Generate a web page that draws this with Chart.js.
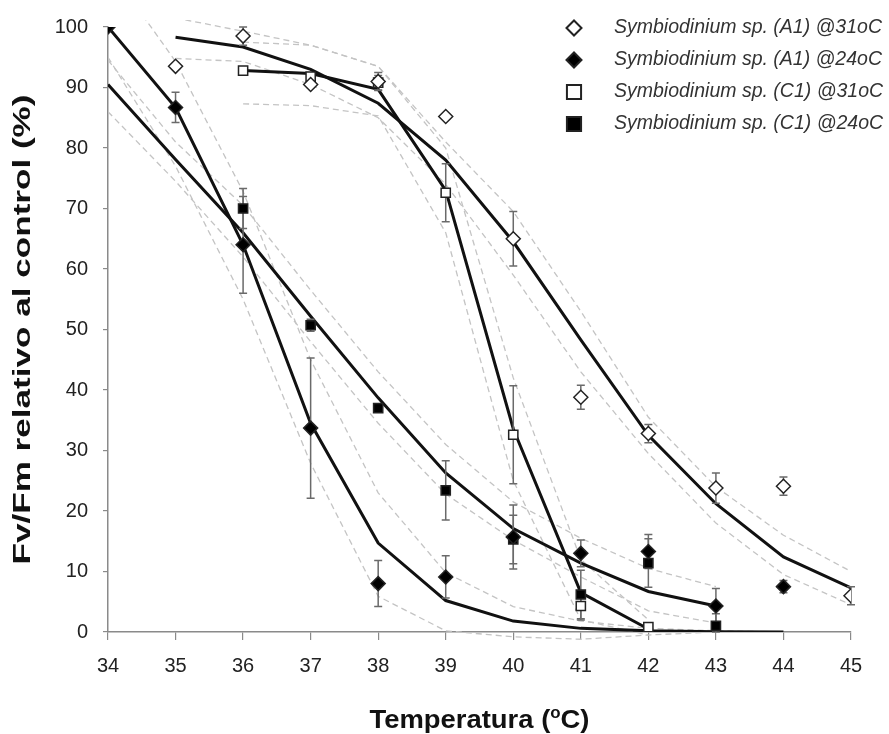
<!DOCTYPE html>
<html>
<head>
<meta charset="utf-8">
<script src="https://cdn.jsdelivr.net/npm/chart.js@4.4.0/dist/chart.umd.min.js"></script>
<style>
  html, body { margin: 0; padding: 0; background: #fff; }
</style>
</head>
<body>
<canvas id="grafico" width="889" height="734"></canvas>
<script>
// temperaturas de cada serie
const tempA31 = [35, 36, 37, 38, 39, 40, 41, 42, 43, 44, 45];
const tempA24 = [34, 35, 36, 37, 38, 39, 40, 41, 42, 43, 44];
const tempC31 = [36, 37, 38, 39, 40, 41, 42];
const tempC24 = [36, 37, 38, 39, 40, 41, 42, 43];
const tempC24ajuste = [34, 35, 36, 37, 38, 39, 40, 41, 42, 43];

// datos medidos (Fv/Fm relativo al control, %) y error
const a31 = [93.5, 98.5, 90.5, 91, 85.2, 65, 38.8, 32.8, 23.8, 24.1, 6];
const a31Err = [0, 1.5, 0.5, 1.5, 0, 4.5, 2, 1.5, 2.5, 1.5, 1.5];
const a24 = [100, 86.7, 64, 33.7, 8, 9.1, 15.7, 13, 13.3, 4.3, 7.5];
const a24Err = [0, 2.5, 8, 11.6, 3.8, 3.5, 5.3, 2.2, 2.8, 2.9, 1];
const c31 = [92.8, 91.8, 90.8, 72.6, 32.6, 4.3, 0.8];
const c31Err = [0, 0.3, 1.2, 4.8, 8.1, 2.3, 0];
const c24 = [70, 50.7, 37, 23.4, 15.3, 6.2, 11.4, 1];
const c24Err = [3.3, 1, 0.5, 4.9, 4, 4, 4, 2];

// curvas ajustadas
const a31Ajuste = [98.3, 96.7, 93, 87.4, 78, 64.5, 48.3, 32.5, 21.2, 12.4, 7.3];
const a24Ajuste = [100, 86.7, 64, 34.5, 14.7, 5.2, 1.8, 0.6, 0.2, 0.05, 0];
const c31Ajuste = [92.8, 92.3, 89.7, 73, 33.6, 6.5, 0.5];
const c24Ajuste = [90.5, 78.1, 66, 52.2, 38.7, 26.3, 17.1, 11.4, 6.7, 4.3];

// intervalos de confianza (lineas discontinuas)
const a31Sup = [101.5, 99.3, 97, 93.5, 81, 69.5, 53, 35.5, 24, 16, 10];
const a31Inf = [94.8, 94.3, 90.5, 85, 74, 59, 43, 29.5, 18, 9.5, 4.5];
const a24Sup = [110, 94.3, 72.8, 45, 23, 9.8, 4.2, 1.8, 0.6, 0.2, 0];
const a24Inf = [95, 77, 55, 27.9, 5.9, 0.2, -0.8, -1.2, -0.5, 0, 0];
const c31Sup = [97.5, 97, 93.5, 80, 42, 12, 2];
const c31Inf = [87.3, 87, 85.3, 66, 25, 2, -0.5];
const c24Sup = [94.5, 81, 70.5, 56.5, 43, 31, 21.5, 15.5, 10.5, 7.5];
const c24Inf = [86, 74.5, 62, 48, 34.5, 22.8, 15.2, 9.1, 3.5, 1.5];

const ticksX = [34, 35, 36, 37, 38, 39, 40, 41, 42, 43, 44, 45];
const ticksY = [0, 10, 20, 30, 40, 50, 60, 70, 80, 90, 100];

const leyenda = [
  'Symbiodinium sp. (A1) @31oC',
  'Symbiodinium sp. (A1) @24oC',
  'Symbiodinium sp. (C1) @31oC',
  'Symbiodinium sp. (C1) @24oC'
];

const fuente = "'Liberation Sans', Arial, sans-serif";

function puntos(xs, ys) {
  return xs.map((x, i) => ({ x: x, y: ys[i] }));
}

function banda(xs, ys) {
  return {
    data: puntos(xs, ys),
    showLine: true,
    borderColor: '#c4c4c4',
    borderWidth: 1.3,
    borderDash: [6, 4],
    pointRadius: 0,
    clip: { left: 0, top: 7, right: 40, bottom: 12 },
    order: 5
  };
}

function ajuste(xs, ys) {
  return {
    data: puntos(xs, ys),
    showLine: true,
    borderColor: '#111',
    borderWidth: 3,
    pointRadius: 0,
    order: 3
  };
}

function serie(xs, ys, err, estilo, relleno, radio) {
  return {
    data: puntos(xs, ys),
    errores: err,
    showLine: false,
    pointStyle: estilo,
    pointRadius: radio,
    pointHoverRadius: radio,
    backgroundColor: relleno,
    borderColor: '#222',
    borderWidth: 1.5,
    order: 1
  };
}

// barras de error, debajo de los marcadores
let erroresHechos = false;
const barrasError = {
  id: 'barrasError',
  beforeDatasetsDraw() { erroresHechos = false; },
  beforeDatasetDraw(chart, args) {
    if (erroresHechos || !chart.data.datasets[args.index].errores) return;
    erroresHechos = true;
    const c = chart.ctx;
    const xs = chart.scales.x, ys = chart.scales.y;
    c.save();
    c.strokeStyle = '#6a6a6a';
    c.lineWidth = 1.5;
    chart.data.datasets.forEach(ds => {
      if (!ds.errores) return;
      ds.data.forEach((p, i) => {
        const e = ds.errores[i];
        if (!e) return;
        const px = xs.getPixelForValue(p.x);
        const top = ys.getPixelForValue(p.y + e);
        const bot = ys.getPixelForValue(Math.max(p.y - e, 0));
        c.beginPath();
        c.moveTo(px, top); c.lineTo(px, bot);
        c.moveTo(px - 4, top); c.lineTo(px + 4, top);
        c.moveTo(px - 4, bot); c.lineTo(px + 4, bot);
        c.stroke();
      });
    });
    c.restore();
  }
};

// titulos de ejes y leyenda
const textos = {
  id: 'textos',
  afterDraw(chart) {
    const c = chart.ctx;
    const area = chart.chartArea;
    c.save();
    c.fillStyle = '#111';

    // titulo eje y
    c.font = 'bold 24px ' + fuente;
    const ty = 'Fv/Fm relativo al control (%)';
    const wy = c.measureText(ty).width;
    c.save();
    c.translate(23, (area.top + area.bottom) / 2);
    c.rotate(-Math.PI / 2);
    c.scale(470 / wy, 1);
    c.textAlign = 'center';
    c.textBaseline = 'middle';
    c.fillText(ty, 0, 0);
    c.restore();

    // titulo eje x con superindice
    const p1 = 'Temperatura (', sup = 'o', p2 = 'C)';
    c.font = 'bold 26px ' + fuente;
    const w1 = c.measureText(p1).width, w2 = c.measureText(p2).width;
    c.font = 'bold 16px ' + fuente;
    const ws = c.measureText(sup).width;
    const total = w1 + ws + w2;
    const esc = 220 / total;
    c.save();
    c.translate((area.left + area.right) / 2, 728);
    c.scale(esc, 1);
    c.textBaseline = 'alphabetic';
    c.textAlign = 'left';
    let x0 = -total / 2;
    c.font = 'bold 26px ' + fuente;
    c.fillText(p1, x0, 0);
    c.font = 'bold 16px ' + fuente;
    c.fillText(sup, x0 + w1, -10);
    c.font = 'bold 26px ' + fuente;
    c.fillText(p2, x0 + w1 + ws, 0);
    c.restore();

    // leyenda
    const estilos = [
      ['rectRot', '#fff', 7.5],
      ['rectRot', '#000', 7.5],
      ['rect', '#fff', 10],
      ['rect', '#000', 10]
    ];
    leyenda.forEach((t, i) => {
      const y = 28 + i * 32;
      c.fillStyle = estilos[i][1];
      c.strokeStyle = '#222';
      c.lineWidth = 2;
      Chart.helpers.drawPoint(c, { pointStyle: estilos[i][0], radius: estilos[i][2], borderWidth: 2 }, 574, y);
      c.fillStyle = '#333';
      c.font = 'italic 19.5px ' + fuente;
      c.textAlign = 'left';
      c.textBaseline = 'middle';
      c.fillText(t, 614, y);
    });
    c.restore();
  }
};

const ctx = document.getElementById('grafico');

new Chart(ctx, {
  type: 'scatter',
  data: {
    datasets: [
      serie(tempA31, a31, a31Err, 'rectRot', '#fff', 7),
      serie(tempA24, a24, a24Err, 'rectRot', '#000', 7),
      serie(tempC31, c31, c31Err, 'rect', '#fff', 6.5),
      serie(tempC24, c24, c24Err, 'rect', '#000', 6.5),
      ajuste(tempA31, a31Ajuste),
      ajuste(tempA24, a24Ajuste),
      ajuste(tempC31, c31Ajuste),
      ajuste(tempC24ajuste, c24Ajuste),
      banda(tempA31, a31Sup),
      banda(tempA31, a31Inf),
      banda(tempA24, a24Sup),
      banda(tempA24, a24Inf),
      banda(tempC31, c31Sup),
      banda(tempC31, c31Inf),
      banda(tempC24ajuste, c24Sup),
      banda(tempC24ajuste, c24Inf)
    ]
  },
  options: {
    responsive: false,
    animation: false,
    layout: { padding: { left: 0, top: 20, right: 38, bottom: 0 } },
    plugins: {
      legend: { display: false },
      tooltip: { enabled: false }
    },
    scales: {
      x: {
        type: 'linear',
        min: 34,
        max: 45,
        afterFit: s => { s.height = 102; },
        afterBuildTicks: s => { s.ticks = ticksX.map(v => ({ value: v })); },
        grid: { drawOnChartArea: false, tickLength: 8, color: '#8a8a8a', lineWidth: 1.2 },
        border: { color: '#8a8a8a', width: 1.5 },
        ticks: { color: '#222', font: { family: fuente, size: 20 }, padding: 14, maxRotation: 0 }
      },
      y: {
        min: 0,
        max: 100,
        afterFit: s => { s.width = 108; },
        afterBuildTicks: s => { s.ticks = ticksY.map(v => ({ value: v })); },
        grid: { drawOnChartArea: false, tickLength: 5, color: '#8a8a8a', lineWidth: 1.2 },
        border: { color: '#8a8a8a', width: 1.5 },
        ticks: { color: '#222', font: { family: fuente, size: 20 }, padding: 15 }
      }
    }
  },
  plugins: [barrasError, textos]
});
</script>
</body>
</html>
